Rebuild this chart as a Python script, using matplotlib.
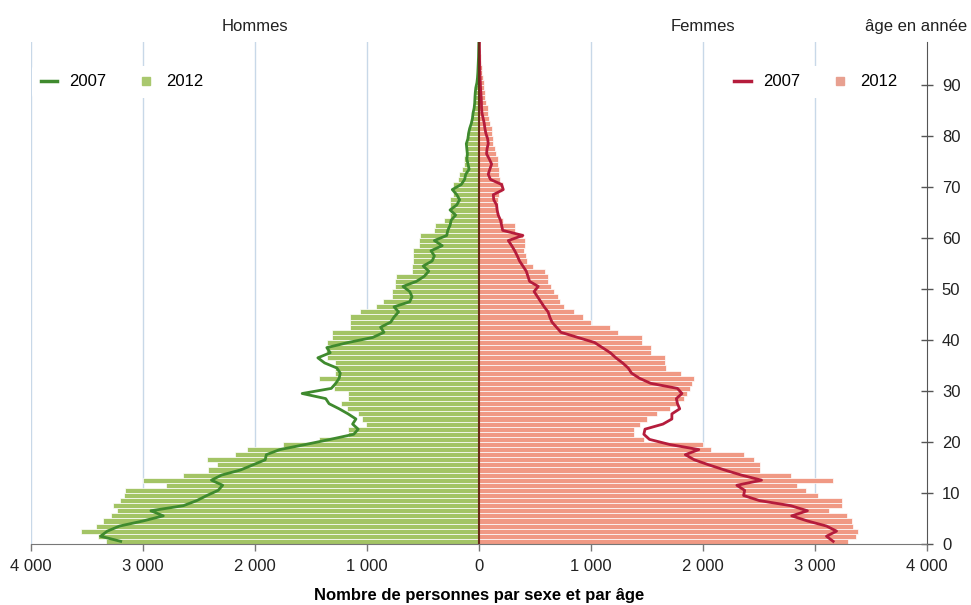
import numpy as np
import matplotlib
matplotlib.use("Agg")
import matplotlib.pyplot as plt
from matplotlib.lines import Line2D
from matplotlib.transforms import blended_transform_factory

plt.rcParams['font.family'] = ['Liberation Sans Narrow', 'Liberation Sans', 'DejaVu Sans']

# age 0 .. 98
ages = np.arange(99)

hommes_2012 = [3330, 3400, 3550, 3420, 3360, 3290, 3230, 3270, 3210, 3170,
               3160, 2800, 3000, 2640, 2420, 2340, 2430, 2180, 2070, 1750,
               1430, 1170, 1170, 1010, 1050, 1080, 1180, 1230, 1170, 1170,
               1300, 1300, 1430, 1290, 1290, 1290, 1360, 1370, 1360, 1360,
               1310, 1310, 1150, 1150, 1150, 1060, 920, 860, 780, 780,
               750, 750, 740, 600, 600, 590, 590, 590, 540, 540,
               530, 400, 395, 310, 265, 262, 260, 258, 235, 232,
               230, 190, 180, 150, 140, 135, 130, 125, 120, 115,
               100, 95, 85, 70, 65, 55, 50, 45, 40, 35,
               30, 25, 20, 15, 12, 10, 8, 5, 4]

hommes_2007 = [3200, 3380, 3320, 3210, 3000, 2820, 2930, 2640, 2520, 2430,
               2330, 2290, 2390, 2300, 2130, 2020, 1910, 1900, 1780, 1550,
               1330, 1120, 1080, 1130, 1100, 1170, 1250, 1340, 1370, 1580,
               1320, 1280, 1250, 1240, 1270, 1380, 1440, 1330, 1360, 1170,
               950, 850, 880, 790, 760, 720, 760, 620, 600, 620,
               680, 560, 490, 450, 500, 420, 400, 430, 330, 400,
               290, 280, 260, 250, 210, 260, 200, 175, 200, 240,
               160, 130, 120, 90, 100, 110, 105, 110, 115, 100,
               95, 85, 70, 60, 55, 45, 40, 38, 35, 30,
               20, 15, 12, 10, 8, 6, 5, 4, 3]

femmes_2012 = [3290, 3360, 3380, 3340, 3330, 3280, 3120, 3240, 3240, 3020,
               2920, 2840, 3160, 2780, 2510, 2510, 2455, 2365, 2070, 2000,
               1470, 1380, 1380, 1435, 1495, 1585, 1705, 1765, 1825, 1855,
               1885, 1900, 1920, 1800, 1670, 1660, 1660, 1530, 1530, 1450,
               1450, 1240, 1170, 1000, 930, 850, 760, 720, 700, 670,
               640, 610, 610, 590, 480, 430, 420, 400, 410, 410,
               390, 320, 320, 210, 175, 170, 170, 170, 180, 200,
               215, 190, 180, 175, 170, 165, 150, 140, 125, 120,
               115, 110, 100, 85, 80, 75, 65, 55, 50, 45,
               40, 35, 28, 22, 18, 14, 10, 8, 6]

femmes_2007 = [3160, 3100, 3190, 3100, 2930, 2790, 2930, 2780, 2500, 2360,
               2370, 2300, 2520, 2340, 2190, 2050, 1920, 1840, 1960, 1700,
               1520, 1470, 1480, 1640, 1720, 1720, 1790, 1770, 1760, 1810,
               1770, 1530, 1430, 1360, 1330, 1280, 1220, 1170, 1100, 1030,
               880, 730, 690, 650, 630, 615, 580, 550, 520, 490,
               527, 450, 435, 420, 390, 360, 340, 317, 290, 260,
               390, 210, 200, 190, 170, 160, 155, 130, 126, 215,
               200, 100, 81, 95, 111, 90, 66, 70, 81, 75,
               60, 51, 45, 35, 25, 21, 20, 18, 15, 12,
               10, 8, 6, 5, 4, 3, 3, 2, 2]

xticks = [-4000, -3000, -2000, -1000, 0, 1000, 2000, 3000, 4000]
xlabels = ["4 000", "3 000", "2 000", "1 000", "0", "1 000", "2 000", "3 000", "4 000"]
yticks = list(range(0, 100, 10))

vert_h = '#a3c465'
vert_l = '#3f8a2e'
rose_f = '#f09984'
rouge_l = '#b51c3c'

fig = plt.figure(figsize=(9.71, 6.05), dpi=100)
ax = fig.add_axes([0.032, 0.101, 0.923, 0.830])

for x in [-4000, -3000, -2000, -1000, 1000, 2000, 3000]:
    ax.axvline(x, color='#c8d8e8', lw=1, zorder=0)

y = ages + 0.5
ax.barh(y, -np.array(hommes_2012), height=1, color=vert_h, edgecolor='white', linewidth=0.5, zorder=2)
ax.barh(y, femmes_2012, height=1, color=rose_f, edgecolor='white', linewidth=0.5, zorder=2)
ax.plot(-np.array(hommes_2007), y, color=vert_l, lw=2, zorder=3)
ax.plot(femmes_2007, y, color=rouge_l, lw=2, zorder=3)
ax.axvline(0, color='#6b2a1a', lw=1.5, zorder=4)

ax.set_xlim(-4000, 4000)
ax.set_ylim(0, 98.5)
ax.set_xticks(xticks)
ax.set_xticklabels(xlabels, fontsize=12, color='#222222')
ax.yaxis.tick_right()
ax.set_yticks(yticks)
ax.set_yticklabels([str(t) for t in yticks], fontsize=12, color='#222222')
ax.tick_params(axis='y', direction='inout', length=9, width=1, color='#555555', pad=6)
ax.tick_params(axis='x', direction='out', length=5, width=1, color='#777777', pad=6)

for s in ['top', 'left']:
    ax.spines[s].set_visible(False)
ax.spines['bottom'].set_color('#777777')
ax.spines['right'].set_color('#555555')

ax.set_xlabel("Nombre de personnes par sexe et par âge", fontsize=12, fontweight='bold', labelpad=10)

tr = blended_transform_factory(ax.transData, ax.transAxes)
ax.text(-2000, 1.03, "Hommes", transform=tr, ha='center', va='center', fontsize=12, color='#222222')
ax.text(2000, 1.03, "Femmes", transform=tr, ha='center', va='center', fontsize=12, color='#222222')
ax.text(0.987, 1.03, "âge en année", transform=ax.transAxes, ha='center', va='center', fontsize=12, color='#222222')

def legende(c_line, c_sq, loc, anchor):
    h = [Line2D([], [], color=c_line, lw=2.5),
         Line2D([], [], color=c_sq, marker='s', markersize=6, linestyle='none')]
    leg = ax.legend(h, ["2007", "2012"], loc=loc, bbox_to_anchor=anchor, ncol=2,
                    frameon=True, facecolor='white', edgecolor='none', framealpha=1,
                    fontsize=12, handlelength=1.0, columnspacing=1.9, handletextpad=0.7,
                    borderpad=0.5)
    leg.set_zorder(5)
    return leg

l1 = legende(vert_l, '#a9c86e', 'center left', (-0.008, 0.92))
ax.add_artist(l1)
legende(rouge_l, '#e8a090', 'center right', (0.985, 0.92))

fig.savefig("out.png", dpi=100)
